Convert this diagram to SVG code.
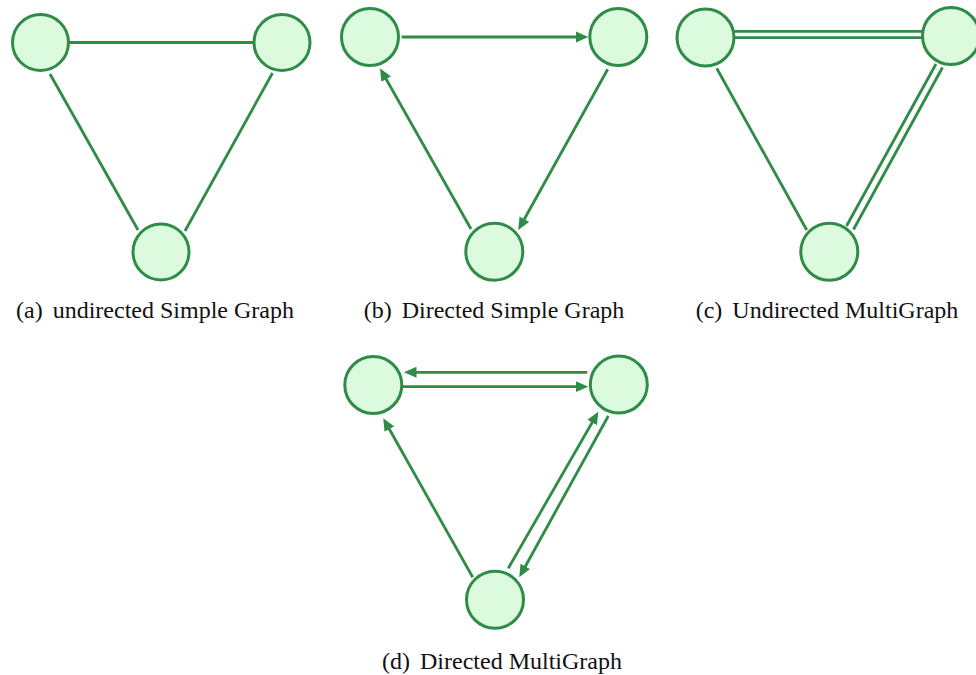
<svg xmlns="http://www.w3.org/2000/svg" width="976" height="675" viewBox="0 0 976 675">
<defs>
<style>
.node{fill:#dcfade;stroke:#2f8c46;stroke-width:3}
.edge{fill:none;stroke:#2f8c46;stroke-width:2.8}
.dir{marker-end:url(#arr)}
.cap{font-family:"Liberation Serif","Times New Roman",serif;font-size:24px;fill:#111;text-anchor:middle}
</style>
<marker id="arr" markerUnits="userSpaceOnUse" markerWidth="13" markerHeight="12" refX="5" refY="6" orient="auto" viewBox="0 0 13 12">
<path d="M0,0.5 L12.5,6 L0,11.5 z" fill="#2f8c46"/>
</marker>
</defs>
<rect width="976" height="675" fill="#fff"/>
<g id="connectors">
<!-- (a) -->
<line class="edge" x1="69" y1="42.5" x2="253" y2="42.5"/>
<line class="edge" x1="50" y1="74" x2="138" y2="230"/>
<line class="edge" x1="272.5" y1="73" x2="185" y2="231"/>
<!-- (b) -->
<line class="edge dir" x1="401.7" y1="37" x2="580.8" y2="37"/>
<line class="edge dir" x1="607.7" y1="69.3" x2="521.9" y2="223.5"/>
<line class="edge dir" x1="471" y1="229" x2="383.7" y2="74.8"/>
<!-- (c) -->
<line class="edge" x1="734" y1="31.3" x2="923" y2="31.3"/>
<line class="edge" x1="734" y1="37.6" x2="923" y2="37.6"/>
<line class="edge" x1="716.7" y1="68.3" x2="806.7" y2="230"/>
<line class="edge" x1="936" y1="64" x2="846.5" y2="226"/>
<line class="edge" x1="942.5" y1="67.5" x2="853.5" y2="229.5"/>
<!-- (d) -->
<line class="edge dir" x1="587.3" y1="372.3" x2="411.5" y2="372.3"/>
<line class="edge dir" x1="403" y1="386.7" x2="580.8" y2="386.7"/>
<line class="edge dir" x1="508.3" y1="568.3" x2="594.6" y2="418.2"/>
<line class="edge dir" x1="608.3" y1="416" x2="522.9" y2="570.7"/>
<line class="edge dir" x1="472.7" y1="577.3" x2="386.9" y2="424.8"/>
</g>
<g id="a1"><circle class="node" cx="40.5" cy="42.5" r="28"/></g>
<g id="a2"><circle class="node" cx="282" cy="42.5" r="28"/></g>
<g id="a3"><circle class="node" cx="161" cy="252" r="28"/></g>
<g id="b1"><circle class="node" cx="370" cy="37" r="28.5"/></g>
<g id="b2"><circle class="node" cx="618.3" cy="37" r="28.5"/></g>
<g id="b3"><circle class="node" cx="494.3" cy="251.7" r="28.5"/></g>
<g id="c1"><circle class="node" cx="705.5" cy="37.5" r="28.5"/></g>
<g id="c2"><circle class="node" cx="951" cy="36" r="28.5"/></g>
<g id="c3"><circle class="node" cx="829.3" cy="251.7" r="28.5"/></g>
<g id="d1"><circle class="node" cx="373.3" cy="385" r="28.5"/></g>
<g id="d2"><circle class="node" cx="618.8" cy="384.5" r="28.5"/></g>
<g id="d3"><circle class="node" cx="495" cy="599.7" r="28.5"/></g>
<g id="captions">
<text class="cap" x="155" y="318">(a)<tspan dx="10">undirected Simple Graph</tspan></text>
<text class="cap" x="494" y="318">(b)<tspan dx="10">Directed Simple Graph</tspan></text>
<text class="cap" x="827" y="318">(c)<tspan dx="10">Undirected MultiGraph</tspan></text>
<text class="cap" x="502" y="669">(d)<tspan dx="10">Directed MultiGraph</tspan></text>
</g>
</svg>
